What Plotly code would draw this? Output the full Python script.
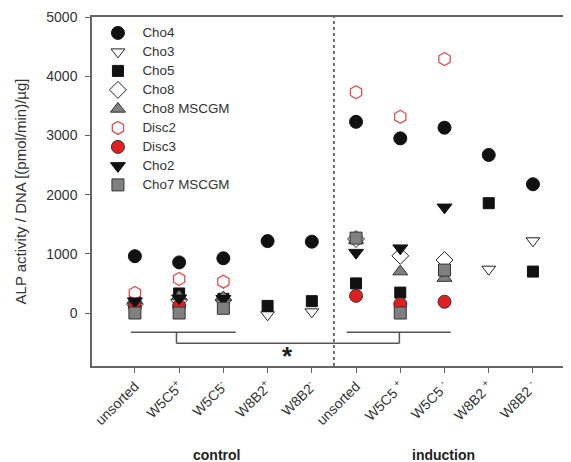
import plotly.graph_objects as go

categories = ["unsorted", "W5C5<sup>+</sup>", "W5C5<sup>-</sup>", "W8B2<sup>+</sup>", "W8B2<sup>-</sup>",
              "unsorted", "W5C5 <sup>+</sup>", "W5C5 <sup>-</sup>", "W8B2 <sup>+</sup>", "W8B2 <sup>-</sup>"]
group_labels = ["control", "induction"]

cho4 = [960, 855, 925, 1215, 1205, 3230, 2950, 3130, 2670, 2175]
cho3 = [150, 200, 200, -30, 20, None, None, None, 740, 1220]
cho5 = [200, 330, 240, 120, 200, 500, 345, None, 1855, 700]
cho8 = [150, 220, 220, None, None, 1250, 965, 895, None, None]
cho8_mscgm = [220, 280, 260, None, None, 1230, 700, 590, None, None]
disc2 = [340, 575, 530, None, None, 3730, 3315, 4290, None, None]
disc3 = [110, 120, None, None, None, 290, 150, 190, None, None]
cho2 = [200, 250, 240, None, None, 1020, 1095, 1785, None, None]
cho7_mscgm = [0, 0, 80, None, None, 1265, 0, 725, None, None]

series = [
    ("Cho4", cho4, dict(symbol="circle", size=13, color="#111111", line=dict(color="#111111", width=1))),
    ("Cho3", cho3, dict(symbol="triangle-down", size=12, color="white", line=dict(color="#222222", width=1))),
    ("Cho5", cho5, dict(symbol="square", size=11, color="#111111", line=dict(color="#111111", width=1))),
    ("Cho8", cho8, dict(symbol="diamond", size=13, color="white", line=dict(color="#222222", width=1))),
    ("Cho8 MSCGM", cho8_mscgm, dict(symbol="triangle-up", size=13, color="#808080", line=dict(color="#333333", width=1))),
    ("Disc2", disc2, dict(symbol="hexagon", size=13, color="white", line=dict(color="#e05050", width=1.3))),
    ("Disc3", disc3, dict(symbol="circle", size=13, color="#e02020", line=dict(color="#333333", width=1))),
    ("Cho2", cho2, dict(symbol="triangle-down", size=13, color="#111111", line=dict(color="#111111", width=1))),
    ("Cho7 MSCGM", cho7_mscgm, dict(symbol="square", size=12, color="#808080", line=dict(color="#333333", width=1))),
]

x_idx = list(range(len(categories)))
fig = go.Figure()
for name, vals, mk in series:
    fig.add_trace(go.Scatter(x=x_idx, y=vals, mode="markers",
                             name="<span style='font-size:13.4px'>" + name + "</span>", marker=mk))

FONT = "Arial, Liberation Sans, sans-serif"
LC = "#666666"

# the page body adds an 8px offset, so the figure is 8px smaller than the window
fig.update_layout(
    width=563, height=454,
    margin=dict(l=84, r=0, t=9, b=96, autoexpand=False),
    paper_bgcolor="white", plot_bgcolor="white",
    font=dict(family=FONT, color="#222222"),
    showlegend=True,
    legend=dict(x=0.003, y=0.996, xanchor="left", yanchor="top", bgcolor="rgba(0,0,0,0)",
                font=dict(size=11.5, family=FONT, color="#333333"), tracegroupgap=0, itemwidth=39),
    xaxis=dict(range=[-0.97, 9.86], tickvals=x_idx, ticktext=categories, tickangle=-45, automargin=False,
               showgrid=False, zeroline=False, showline=True, linecolor=LC, linewidth=1.5, mirror=True,
               ticks="outside", ticklen=5, tickcolor=LC, tickwidth=1.2,
               tickfont=dict(size=14, family=FONT, color="#333333")),
    yaxis=dict(range=[-895, 5000], tickvals=[0, 1000, 2000, 3000, 4000, 5000], automargin=False,
               showgrid=False, zeroline=False, showline=True, linecolor=LC, linewidth=1.5,
               ticks="outside", ticklen=5, tickcolor=LC, tickwidth=1.2, ticklabelstandoff=5,
               tickfont=dict(size=14, family=FONT, color="#333333"),
               title=dict(text="ALP activity / DNA [(pmol/min)/µg]", font=dict(size=15, family=FONT, color="#333333"), standoff=16)),
)

# dotted separator between groups
fig.add_shape(type="line", xref="x", yref="paper", x0=4.5, x1=4.5, y0=0, y1=1,
              line=dict(color="#444444", width=1.5, dash="dot"))

# significance bracket
bc = "#555555"
lines = [
    (-0.09, -326, 2.28, -326),
    (0.94, -326, 0.94, -512),
    (0.94, -512, 5.98, -512),
    (5.98, -512, 5.98, -326),
    (4.79, -326, 7.14, -326),
]
for x0, y0, x1, y1 in lines:
    fig.add_shape(type="line", xref="x", yref="y", x0=x0, y0=y0, x1=x1, y1=y1,
                  line=dict(color=bc, width=1.5))
fig.add_annotation(x=3.44, y=-720, xref="x", yref="y", text="<b>*</b>", showarrow=False,
                   font=dict(size=26, family=FONT, color="#222222"))

# group labels
for lbl, xc in zip(group_labels, [1.85, 6.98]):
    fig.add_annotation(x=xc, y=-0.255, xref="x", yref="paper", yanchor="middle", text="<b>" + lbl + "</b>",
                       showarrow=False, font=dict(size=14, family=FONT, color="#222222"))

fig.write_html("out.html")
